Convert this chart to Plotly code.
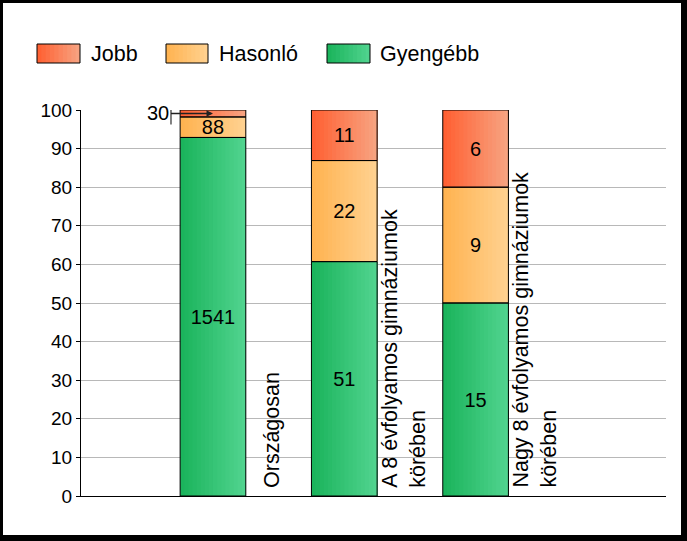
import plotly.graph_objects as go

# ---- data ----
categories = ["Országosan",
              "A 8 évfolyamos gimnáziumok körében",
              "Nagy 8 évfolyamos gimnáziumok körében"]
category_labels = ["Országosan",
                   "A 8 évfolyamos gimnáziumok<br>körében",
                   "Nagy 8 évfolyamos gimnáziumok<br>körében"]
series_names = ["Gyengébb", "Hasonló", "Jobb"]
gyengebb = [1541, 51, 15]
hasonlo = [88, 22, 9]
jobb = [30, 11, 6]
y_ticks = [0, 10, 20, 30, 40, 50, 60, 70, 80, 90, 100]

# horizontal gradient (left colour, right colour) for each series
gradients = {
    "Jobb": ((255, 94, 48), (247, 165, 131)),
    "Hasonló": ((255, 178, 79), (255, 210, 145)),
    "Gyengébb": ((25, 179, 90), (82, 212, 144)),
}
series_values = {"Gyengébb": gyengebb, "Hasonló": hasonlo, "Jobb": jobb}

FONT = "Liberation Sans, Arial, sans-serif"
W, H = 687, 541
ML, MR, MT, MB = 81, 21, 110, 45
PW, PH = W - ML - MR, H - MT - MB
BAR_W = 0.5
N_STRIPS = 16


def px_x(p):
    return (p - ML) / PW


def px_y(p):
    return (H - MB - p) / PH


def mix(c0, c1, t):
    return "rgb(%d,%d,%d)" % tuple(round(a + (b - a) * t) for a, b in zip(c0, c1))


totals = [g + h + j for g, h, j in zip(gyengebb, hasonlo, jobb)]
pct = {n: [v / t * 100 for v, t in zip(series_values[n], totals)] for n in series_names}
bases = {}
running = [0.0] * len(categories)
for n in series_names:
    bases[n] = list(running)
    running = [r + p for r, p in zip(running, pct[n])]

fig = go.Figure()
# gradient fill: overlapping strips, each lighter one covering the right part
for n in series_names:
    c0, c1 = gradients[n]
    for k in range(N_STRIPS):
        off = -BAR_W / 2 + k * BAR_W / N_STRIPS
        fig.add_trace(go.Bar(
            x=categories, y=pct[n], base=bases[n],
            offset=off, width=BAR_W / 2 - off,
            marker=dict(color=mix(c0, c1, (k + 0.5) / N_STRIPS), line=dict(width=0)),
            showlegend=False, hoverinfo="skip",
        ))
# outlines + value labels
for n in series_names:
    vals = series_values[n]
    texts = [str(v) if p >= 4 else "" for v, p in zip(vals, pct[n])]
    fig.add_trace(go.Bar(
        x=categories, y=pct[n], base=bases[n], name=n, width=BAR_W,
        marker=dict(color="rgba(0,0,0,0)", line=dict(color="black", width=1)),
        text=texts, textposition="inside", insidetextanchor="middle",
        constraintext="none",
        textfont=dict(family=FONT, size=20, color="black"),
        customdata=vals, hovertemplate="%{x}<br>" + n + ": %{customdata}<extra></extra>",
        showlegend=False,
    ))

fig.update_layout(
    barmode="overlay",
    width=W, height=H,
    margin=dict(l=ML, r=MR, t=MT, b=MB),
    paper_bgcolor="white", plot_bgcolor="white",
    font=dict(family=FONT, size=20, color="black"),
    showlegend=False,
)
fig.update_xaxes(
    type="category", range=[-1.005, 3.45],
    showticklabels=False, ticks="", showgrid=False,
    showline=True, linecolor="black", linewidth=1,
)
fig.update_yaxes(
    range=[0, 100], tickvals=y_ticks,
    ticks="outside", ticklen=4, tickcolor="black",
    tickfont=dict(family=FONT, size=19, color="black"),
    showline=True, linecolor="black", linewidth=1,
    showgrid=True, gridcolor="#b8b8b8", gridwidth=1, zeroline=False,
)

# category labels (rotated, right of each bar)
for cat, lab in zip(categories, category_labels):
    fig.add_annotation(
        x=cat, y=0, xref="x", yref="y", text=lab, showarrow=False,
        textangle=-90, align="left", xanchor="center", yanchor="bottom",
        xshift=59, yshift=6, font=dict(family=FONT, size=21.5, color="black"),
    )

# small-segment label with leader arrow (first category, "Jobb")
small_idx = 0
y_mid = bases["Jobb"][small_idx] + pct["Jobb"][small_idx] / 2
fig.add_annotation(
    x=categories[small_idx], y=y_mid, xref="x", yref="y",
    text=str(jobb[small_idx]), showarrow=True, ax=-42, ay=0,
    xanchor="right", arrowhead=2, arrowsize=1, arrowwidth=1.3,
    arrowcolor="#222222", font=dict(family=FONT, size=20, color="black"),
)
fig.add_shape(
    type="line", xref="x", yref="y", xsizemode="pixel", ysizemode="pixel",
    xanchor=categories[small_idx], yanchor=y_mid,
    x0=-42, x1=-42, y0=-11, y1=11,
    line=dict(color="#808080", width=2),
)

# manual legend (large gradient swatches)
legend_items = [("Jobb", 37, 80, 89), ("Hasonló", 166, 208, 217),
                ("Gyengébb", 327, 370, 378)]
for name, sx0, sx1, tx in legend_items:
    c0, c1 = gradients[name]
    steps = 10
    for k in range(steps):
        a = sx0 + (sx1 - sx0) * k / steps
        fig.add_shape(
            type="rect", xref="paper", yref="paper",
            x0=px_x(a), x1=px_x(sx1), y0=px_y(63), y1=px_y(44),
            fillcolor=mix(c0, c1, (k + 0.5) / steps), line=dict(width=0),
        )
    fig.add_shape(
        type="rect", xref="paper", yref="paper",
        x0=px_x(sx0), x1=px_x(sx1), y0=px_y(63), y1=px_y(44),
        fillcolor="rgba(0,0,0,0)", line=dict(color="black", width=1),
    )
    fig.add_annotation(
        x=px_x(tx), y=px_y(54), xref="paper", yref="paper", text=name,
        showarrow=False, xanchor="left", yanchor="middle",
        font=dict(family=FONT, size=21.5, color="black"),
    )

# outer frame
fig.add_shape(
    type="rect", xref="paper", yref="paper",
    x0=px_x(0), x1=px_x(684), y0=px_y(538), y1=px_y(0),
    line=dict(color="black", width=6), fillcolor="rgba(0,0,0,0)",
)

fig.write_html(
    "out.html",
    config={"displayModeBar": False},
    post_script="document.body.style.margin='0px';document.body.style.padding='0px';",
)
